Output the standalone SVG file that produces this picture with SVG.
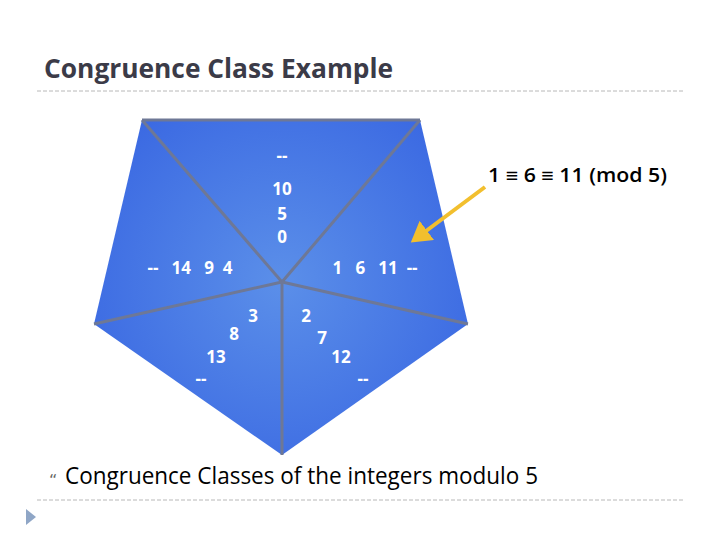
<svg xmlns="http://www.w3.org/2000/svg" width="720" height="540" viewBox="0 0 720 540">
<style>
.num{font-family:"Open Sans","Liberation Sans",sans-serif;font-weight:bold;font-size:17px;fill:#ffffff;text-anchor:middle}
.edge{stroke:#6e7896;stroke-width:3;fill:none}
.dash{stroke:#b8b8b8;stroke-width:1;stroke-dasharray:4 2}
</style>
<defs>
<radialGradient id="g" cx="281" cy="282" r="220" gradientUnits="userSpaceOnUse">
<stop offset="0" stop-color="#5b8fe9"/>
<stop offset="1" stop-color="#3a68e2"/>
</radialGradient>
<marker id="ah" markerWidth="6" markerHeight="6" refX="4" refY="3" orient="auto" markerUnits="strokeWidth">
<path d="M0,0 L5,3 L0,6 z" fill="#f2bf2e"/>
</marker>
</defs>
<rect width="720" height="540" fill="#ffffff"/>
<text x="44" y="78" font-family="Open Sans,Liberation Sans,sans-serif" font-weight="bold" font-size="26" fill="#3b3b48" textLength="349" lengthAdjust="spacingAndGlyphs">Congruence Class Example</text>
<line class="dash" x1="37" y1="91" x2="685" y2="91"/>
<g id="pentagon">
<polygon points="142,120 420,120 468,324 282,455 94,324" fill="url(#g)"/>
<line x1="142" y1="120" x2="420" y2="120" class="edge"/>
</g>
<g id="connectors">
<line class="edge" x1="142" y1="120" x2="282" y2="282"/>
<line class="edge" x1="420" y1="120" x2="282" y2="282"/>
<line class="edge" x1="94" y1="324" x2="282" y2="282"/>
<line class="edge" x1="468" y1="324" x2="282" y2="282"/>
<line class="edge" x1="282" y1="455" x2="282" y2="282"/>
<line x1="485" y1="187" x2="414" y2="240" stroke="#f2bf2e" stroke-width="4" marker-end="url(#ah)"/>
</g>
<g id="class0">
<text class="num" x="282" y="162">--</text>
<text class="num" x="282" y="195">10</text>
<text class="num" x="282" y="220">5</text>
<text class="num" x="282" y="243">0</text>
</g>
<g id="class4">
<text class="num" x="190" y="274" xml:space="preserve">--   14   9  4</text>
</g>
<g id="class1">
<text class="num" x="375" y="274" xml:space="preserve">1   6   11  --</text>
</g>
<g id="class3">
<text class="num" x="253" y="322">3</text>
<text class="num" x="234" y="340">8</text>
<text class="num" x="216" y="363">13</text>
<text class="num" x="201" y="385">--</text>
</g>
<g id="class2">
<text class="num" x="306" y="322">2</text>
<text class="num" x="322" y="344">7</text>
<text class="num" x="341" y="363">12</text>
<text class="num" x="363" y="385">--</text>
</g>
<g id="label">
<text x="488" y="182" font-family="Open Sans,Liberation Sans,sans-serif" font-weight="600" font-size="19" fill="#000000" textLength="179" lengthAdjust="spacingAndGlyphs">1 ≡ 6 ≡ 11 (mod 5)</text>
</g>
<text x="49" y="486" font-family="DejaVu Sans,sans-serif" font-size="16" fill="#666666">“</text>
<text x="65" y="484" font-family="Open Sans,Liberation Sans,sans-serif" font-size="23" fill="#000000" textLength="473" lengthAdjust="spacingAndGlyphs">Congruence Classes of the integers modulo 5</text>
<line class="dash" x1="37" y1="500" x2="685" y2="500"/>
<polygon points="26,509 36,517 26,525" fill="#8fa6c6"/>
</svg>
